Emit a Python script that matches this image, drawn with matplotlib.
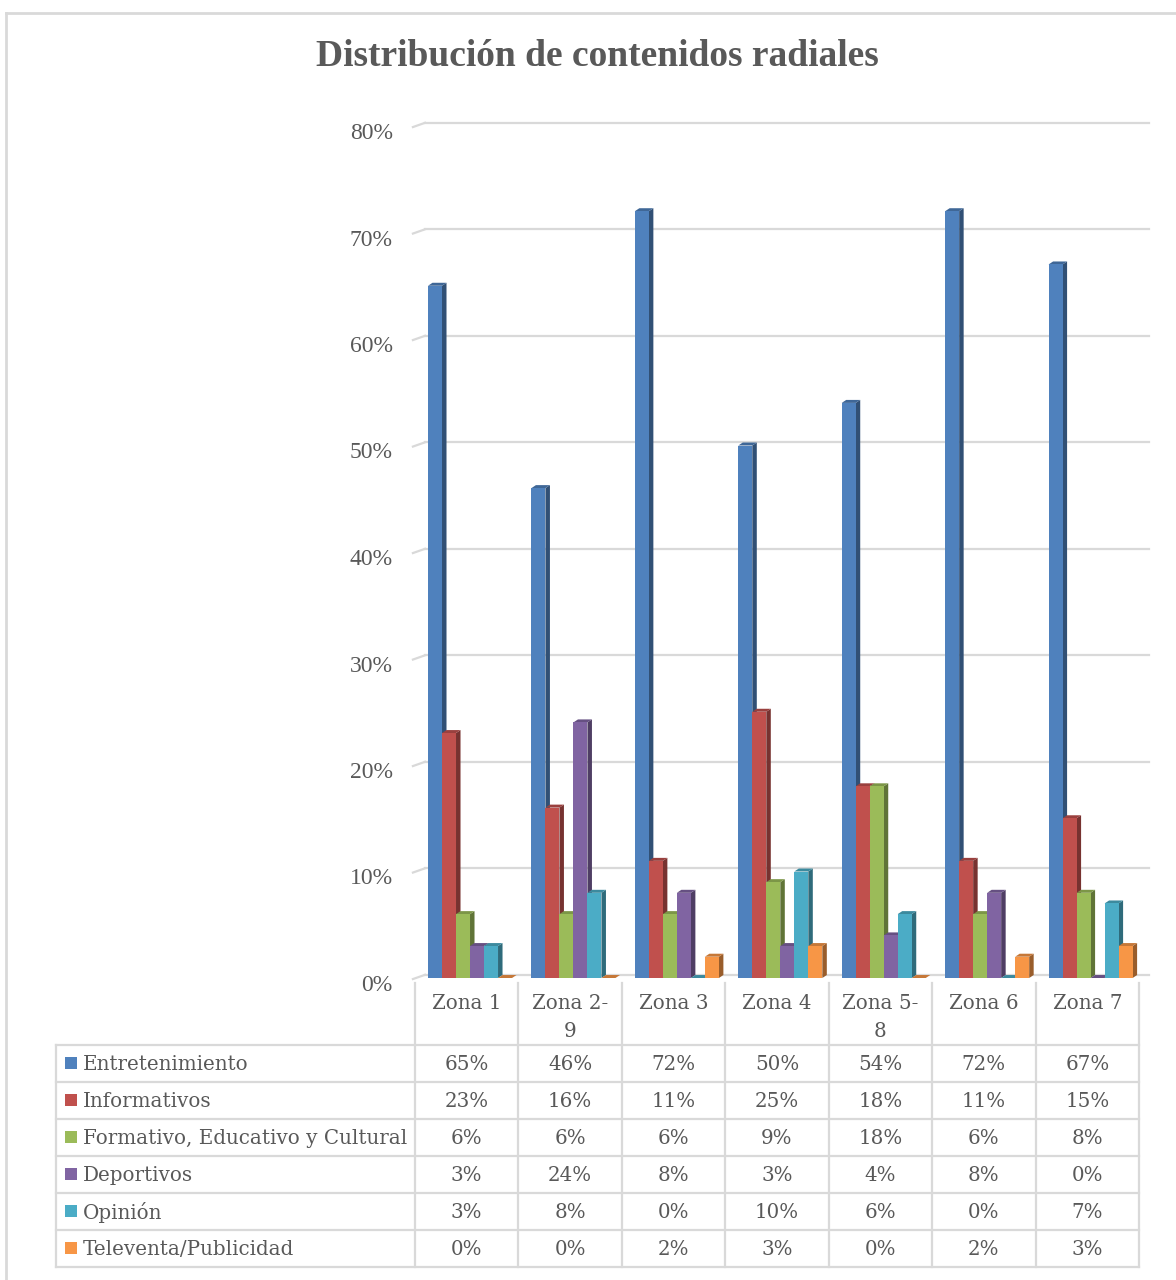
import numpy as np
import matplotlib.pyplot as plt
from matplotlib.patches import Polygon, Rectangle
import matplotlib.colors as mcolors
import matplotlib.transforms as mtransforms

zonas = ["Zona 1", "Zona 2-\n9", "Zona 3", "Zona 4", "Zona 5-\n8", "Zona 6", "Zona 7"]
series = ["Entretenimiento", "Informativos", "Formativo, Educativo y Cultural",
          "Deportivos", "Opinión", "Televenta/Publicidad"]
entretenimiento = [65, 46, 72, 50, 54, 72, 67]
informativos = [23, 16, 11, 25, 18, 11, 15]
formativo = [6, 6, 6, 9, 18, 6, 8]
deportivos = [3, 24, 8, 3, 4, 8, 0]
opinion = [3, 8, 0, 10, 6, 0, 7]
televenta = [0, 0, 2, 3, 0, 2, 3]
valores = [entretenimiento, informativos, formativo, deportivos, opinion, televenta]
colores = ["#4F81BD", "#C0504D", "#9BBB59", "#8064A2", "#4BACC6", "#F79646"]
yticks = [0, 10, 20, 30, 40, 50, 60, 70, 80]

W, H = 1176, 1280
gris = "#595959"
linea = "#D9D9D9"
serif = "Liberation Serif"
tabfont = "DejaVu Serif"
plt.rcParams["font.family"] = [serif, "DejaVu Serif"]

fig = plt.figure(figsize=(W / 100, H / 100), dpi=100)


def px(x0, y0, x1, y1):
    return [x0 / W, 1 - y1 / H, (x1 - x0) / W, (y1 - y0) / H]


# chart area (front plane: 0% at y=978, 80% at y=126)
ax = fig.add_axes(px(415, 126, 1139, 978))
ax.set_xlim(0, 7)
ax.set_ylim(0, 80)
for s in ax.spines.values():
    s.set_visible(False)
ax.set_xticks([])
ax.set_yticks(yticks)
ax.set_yticklabels([f"{t}%" for t in yticks])
ax.tick_params(axis="y", length=0, pad=16, labelsize=17, labelcolor=gris)
shift = mtransforms.ScaledTranslation(0, -5 / 100, fig.dpi_scale_trans)
for lab in ax.get_yticklabels():
    lab.set_transform(lab.get_transform() + shift)

# perspective offsets
depth_x, depth_y = 4.5 / 103.4, 0.28
back_x = 10 / 103.4

for t in yticks:
    ax.plot([-0.02, back_x], [t - 0.1, t + 0.3], color=linea, lw=1.6, clip_on=False, zorder=1)
    ax.plot([back_x, 7.1], [t + 0.3, t + 0.3], color=linea, lw=1.6, clip_on=False, zorder=1)

bw = 14 / 103.4
off = 13 / 103.4
for j, (vals, c) in enumerate(zip(valores, colores)):
    dark = np.array(mcolors.to_rgb(c)) * 0.62
    top = np.array(mcolors.to_rgb(c)) * 0.8
    xs = np.arange(len(zonas)) + off + j * bw
    ax.bar(xs, vals, bw, align="edge", color=c, zorder=3 + 2 * j, linewidth=0)
    for xl, v in zip(xs, vals):
        xr = xl + bw
        ax.add_patch(Polygon([(xr, 0), (xr + depth_x, depth_y), (xr + depth_x, v + depth_y), (xr, v)],
                             closed=True, facecolor=dark, edgecolor="none", zorder=2 + 2 * j))
        ax.add_patch(Polygon([(xl, v), (xl + depth_x, v + depth_y), (xr + depth_x, v + depth_y), (xr, v)],
                             closed=True, facecolor=top, edgecolor="none", zorder=2 + 2 * j))

# title
fig.text(597 / W, 1 - 57 / H, "Distribución de contenidos radiales", ha="center", va="center",
         fontfamily=serif, fontweight="bold", fontsize=27, color=gris)

# data table
tab = fig.add_axes([0, 0, 1, 1], zorder=-1)
tab.set_xlim(0, W)
tab.set_ylim(H, 0)
tab.axis("off")

col_w = (1139 - 415) / 7
cols = [415 + k * col_w for k in range(8)]
rows = [1045 + r * 37 for r in range(7)]

for x in cols:
    tab.plot([x, x], [983, rows[-1]], color=linea, lw=1.6)
tab.plot([56, 56], [rows[0], rows[-1]], color=linea, lw=1.6)
for y in rows:
    tab.plot([56, cols[-1]], [y, y], color=linea, lw=1.6)

for i, z in enumerate(zonas):
    tab.text((cols[i] + cols[i + 1]) / 2, 994, z, ha="center", va="top", fontfamily=tabfont,
             fontsize=14.3, color=gris, linespacing=1.6, multialignment="center")

for r, (name, vals, c) in enumerate(zip(series, valores, colores)):
    yc = (rows[r] + rows[r + 1]) / 2
    tab.add_patch(Rectangle((65, yc - 7), 12, 12, facecolor=c, edgecolor="none"))
    tab.text(83, yc - 1, name, ha="left", va="center_baseline", fontfamily=tabfont, fontsize=14.3, color=gris)
    for i, v in enumerate(vals):
        tab.text((cols[i] + cols[i + 1]) / 2, yc - 1, f"{v}%", ha="center", va="center_baseline",
                 fontfamily=tabfont, fontsize=14.3, color=gris)

# outer frame (top and left visible)
tab.plot([6, W], [13, 13], color=linea, lw=2)
tab.plot([6, 6], [13, H], color=linea, lw=2)

fig.savefig("out.png", dpi=100, facecolor="white")
